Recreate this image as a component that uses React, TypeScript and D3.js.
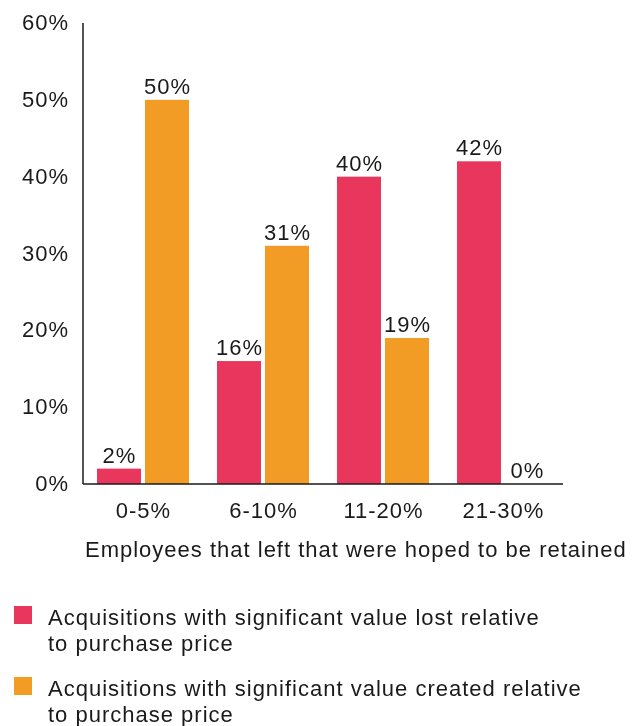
import React, { useEffect, useRef } from 'react';
import * as d3 from 'd3';

const categories = ['0-5%', '6-10%', '11-20%', '21-30%'];
const lostValues = [2, 16, 40, 42];
const createdValues = [50, 31, 19, 0];
const yTicks = [0, 10, 20, 30, 40, 50, 60];
const seriesNames = [
  ['Acquisitions with significant value lost relative', 'to purchase price'],
  ['Acquisitions with significant value created relative', 'to purchase price'],
];
const seriesColors = ['#E8365D', '#F39C25'];
const xTitle = 'Employees that left that were hoped to be retained';

const App: React.FC = () => {
  const svgRef = useRef<SVGSVGElement>(null);

  useEffect(() => {
    if (!svgRef.current) return;
    const width = 637;
    const height = 726;
    const font = '"Liberation Sans", Arial, sans-serif';
    const fs = '22px';
    const ls = '1px';
    const ink = '#1a1a1a';

    const svg = d3.select(svgRef.current);
    svg.selectAll('*').remove();
    svg.attr('width', width).attr('height', height)
      .style('font-family', font)
      .style('letter-spacing', ls);

    const left = 83;
    const right = 563;
    const top = 23;
    const bottom = 484;

    const x = d3.scaleBand<string>().domain(categories).range([left, right]).paddingInner(0.2333).paddingOuter(0.1167);
    const y = d3.scaleLinear().domain([0, 60]).range([bottom, top]);
    const barW = 44;
    const gap = 4;

    // y tick labels
    svg.append('g')
      .selectAll('text')
      .data(yTicks)
      .enter()
      .append('text')
      .attr('x', 69)
      .attr('y', (d) => y(d) + 7)
      .attr('text-anchor', 'end')
      .attr('font-size', fs)
      .attr('fill', ink)
      .text((d) => `${d}%`);

    const series = [lostValues, createdValues];
    series.forEach((vals, si) => {
      const g = svg.append('g');
      g.selectAll('rect')
        .data(vals)
        .enter()
        .append('rect')
        .attr('x', (_, i) => (x(categories[i]) as number) + si * (barW + gap))
        .attr('y', (d) => y(d))
        .attr('width', barW)
        .attr('height', (d) => bottom - y(d))
        .attr('fill', seriesColors[si]);
      g.selectAll('text')
        .data(vals)
        .enter()
        .append('text')
        .attr('x', (_, i) => (x(categories[i]) as number) + si * (barW + gap) + barW / 2 + 0.5)
        .attr('y', (d) => y(d) - 6)
        .attr('text-anchor', 'middle')
        .attr('font-size', fs)
        .attr('fill', ink)
        .text((d) => `${d}%`);
    });

    // axes lines
    svg.append('line')
      .attr('x1', left).attr('x2', left)
      .attr('y1', top).attr('y2', bottom)
      .attr('stroke', ink).attr('stroke-width', 1.5);
    svg.append('line')
      .attr('x1', left).attr('x2', right)
      .attr('y1', bottom).attr('y2', bottom)
      .attr('stroke', ink).attr('stroke-width', 1.5);

    // category labels
    svg.append('g')
      .selectAll('text')
      .data(categories)
      .enter()
      .append('text')
      .attr('x', (d) => (x(d) as number) + x.bandwidth() / 2 + 0.5)
      .attr('y', 518)
      .attr('text-anchor', 'middle')
      .attr('font-size', fs)
      .attr('fill', ink)
      .text((d) => d);

    svg.append('text')
      .attr('x', 85)
      .attr('y', 557)
      .attr('font-size', fs)
      .attr('fill', ink)
      .text(xTitle);

    // legend
    const legendY = [606, 677];
    seriesNames.forEach((lines, i) => {
      svg.append('rect')
        .attr('x', 14)
        .attr('y', legendY[i])
        .attr('width', 18)
        .attr('height', 18)
        .attr('fill', seriesColors[i]);
      lines.forEach((line, j) => {
        svg.append('text')
          .attr('x', 48)
          .attr('y', legendY[i] + 19 + j * 26)
          .attr('font-size', fs)
          .attr('fill', ink)
          .text(line);
      });
    });
  }, []);

  return (
    <svg
      ref={svgRef}
      style={{ display: 'block', position: 'fixed', top: 0, left: 0 }}
    ></svg>
  );
};

export default App;
